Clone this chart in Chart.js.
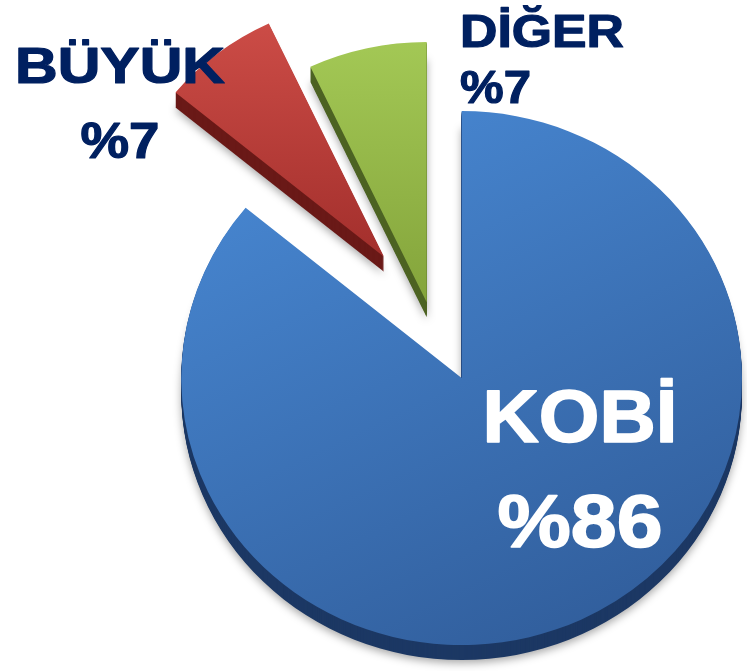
<!DOCTYPE html>
<html>
<head>
<meta charset="utf-8">
<script src="https://cdn.jsdelivr.net/npm/chart.js@4"></script>
<style>
  html, body { margin: 0; padding: 0; background: #fff; }
  #kutu { width: 747px; height: 671px; position: relative; }
</style>
</head>
<body>
<div id="kutu"><canvas id="pasta"></canvas></div>
<script>
const kategoriler = ["KOBİ", "BÜYÜK", "DİĞER"];
const paylar = [86, 7, 7];

// Renkler: üst yüz (açık -> koyu) ve yan yüz
const yuzAcik = ["#4888d3", "#d04f49", "#a3c855"];
const yuzKoyu = ["#315e9c", "#a32f2c", "#84a43b"];
const yanRenk = ["#1c3864", "#6a1917", "#4d6323"];

const patlama = [73, 70, 10]; // dilimin merkezden kayması (px)
const perspektif = [1, 0.965, 0.975]; // uzaktaki dilimler biraz küçük
const derinlik = 15;
const yatayOlcek = 1.05;
const yaricap = 267;

// Etiket yerleşimi (ad satırı / yüzde satırı taban çizgisi)
const etiketYer = [
  { x: 580, ust: 442, alt: 547, boyut: 74, kalin: 1.6, adG: 195, yuzdeG: 165, hiza: "center", renk: "#ffffff" },
  { x: 120, ust: 83, alt: 158, boyut: 50, kalin: 1.2, adG: 210, yuzdeG: 79, hiza: "center", renk: "#002060" },
  { x: 460, ust: 47, alt: 103, boyut: 47, kalin: 1.2, adG: 164, yuzdeG: 71, hiza: "left", renk: "#002060" },
];

function yuzRengi(c) {
  const chart = c.chart;
  const i = c.dataIndex;
  const alan = chart.chartArea;
  if (!alan) return yuzKoyu[i];
  const cx = (alan.left + alan.right) / 2;
  const cy = (alan.top + alan.bottom) / 2;
  let g;
  if (i === 0) {
    g = chart.ctx.createLinearGradient(cx - yaricap * 0.6, cy - yaricap, cx + yaricap * 0.4, cy + yaricap);
  } else {
    g = chart.ctx.createLinearGradient(0, cy - yaricap, 0, cy);
  }
  g.addColorStop(0, yuzAcik[i]);
  g.addColorStop(1, yuzKoyu[i]);
  return g;
}

// Dilimleri patlatılmış ve kalınlıklı çiz
const dilimCizici = {
  id: "dilimCizici",
  beforeDatasetDraw(chart, args) {
    const ctx = chart.ctx;
    const yaylar = args.meta.data;
    const kayma = yaylar.map((yay, i) => {
      const orta = (yay.startAngle + yay.endAngle) / 2;
      return { x: Math.cos(orta) * patlama[i], y: Math.sin(orta) * patlama[i] };
    });
    const cx = yaylar[0].x;
    const cy = yaylar[0].y;

    function konumla(yay, i, ekY) {
      ctx.translate(kayma[i].x, kayma[i].y + ekY);
      ctx.translate(yay.x, yay.y);
      ctx.scale(perspektif[i], perspektif[i]);
      ctx.translate(-yay.x, -yay.y);
    }

    ctx.save();
    ctx.translate(cx, cy);
    ctx.scale(yatayOlcek, 1);
    ctx.translate(-cx, -cy);

    // yan yüzler
    yaylar.forEach((yay, i) => {
      for (let d = derinlik; d >= 1; d--) {
        ctx.save();
        if (d === derinlik) {
          ctx.shadowColor = "rgba(0,0,0,0.35)";
          ctx.shadowBlur = 8;
          ctx.shadowOffsetY = 3;
        }
        konumla(yay, i, d);
        ctx.beginPath();
        ctx.moveTo(yay.x, yay.y);
        ctx.arc(yay.x, yay.y, yay.outerRadius, yay.startAngle, yay.endAngle);
        ctx.closePath();
        ctx.fillStyle = yanRenk[i];
        ctx.fill();
        ctx.restore();
      }
    });

    // üst yüzler
    yaylar.forEach((yay, i) => {
      ctx.save();
      konumla(yay, i, 0);
      yay.draw(ctx);
      ctx.restore();
    });

    ctx.restore();
    return false;
  },
};

function yaz(ctx, metin, x, y, e, genislik) {
  ctx.save();
  ctx.font = `bold ${e.boyut}px "Liberation Sans", Arial, sans-serif`;
  const w = ctx.measureText(metin).width;
  ctx.translate(x, y);
  ctx.scale(genislik / w, 1);
  ctx.textAlign = e.hiza;
  ctx.textBaseline = "alphabetic";
  ctx.fillStyle = e.renk;
  ctx.strokeStyle = e.renk;
  ctx.lineWidth = e.kalin;
  ctx.lineJoin = "round";
  ctx.strokeText(metin, 0, 0);
  ctx.fillText(metin, 0, 0);
  ctx.restore();
}

const etiketCizici = {
  id: "etiketCizici",
  afterDraw(chart) {
    const ctx = chart.ctx;
    kategoriler.forEach((ad, i) => {
      const e = etiketYer[i];
      yaz(ctx, ad, e.x, e.ust, e, e.adG);
      yaz(ctx, "%" + paylar[i], e.x, e.alt, e, e.yuzdeG);
    });
  },
};

new Chart(document.getElementById("pasta"), {
  type: "pie",
  data: {
    labels: kategoriler,
    datasets: [
      {
        data: paylar,
        backgroundColor: yuzRengi,
        borderWidth: 0,
      },
    ],
  },
  options: {
    responsive: true,
    maintainAspectRatio: false,
    animation: false,
    radius: yaricap,
    layout: { padding: { left: 111, right: 0, top: 0, bottom: 47 } },
    plugins: {
      legend: { display: false },
      tooltip: { enabled: false },
    },
  },
  plugins: [dilimCizici, etiketCizici],
});
</script>
</body>
</html>
